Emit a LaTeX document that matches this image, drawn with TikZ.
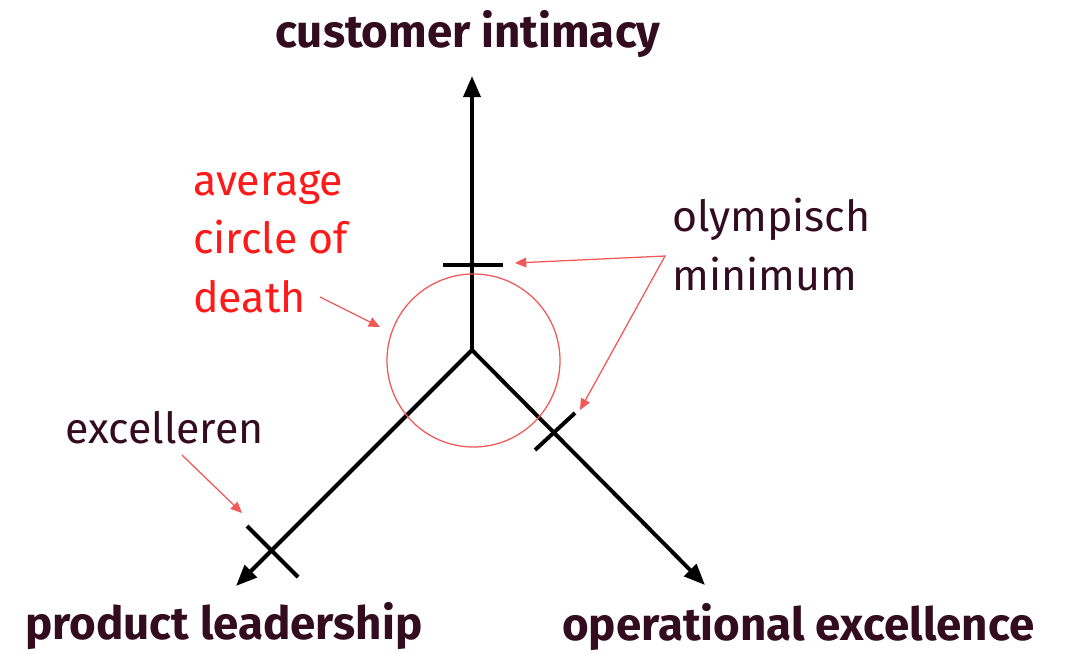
\documentclass[tikz,border=0pt]{standalone}
\usepackage{fontspec}
\setmainfont{Fira Sans}
\usetikzlibrary{arrows.meta}
\definecolor{plumdark}{HTML}{330C1E}
\definecolor{deathred}{HTML}{FF1A1A}
\definecolor{pointred}{HTML}{F25858}

\tikzset{
  axis/.style={-{Triangle[length=15pt,width=12pt]}, line width=2.8pt, black},
  tick/.style={line width=2.8pt, black},
  pointer/.style={-{Triangle[length=8pt,width=7pt]}, line width=0.9pt, pointred},
  title/.style={font=\fontsize{32.5}{40}\selectfont\bfseries, text=plumdark, inner sep=0pt},
  note/.style={font=\fontsize{30.5}{41.6}\selectfont, inner sep=0pt, align=left}
}

\begin{document}
\begin{tikzpicture}[x=0.025cm, y=-0.025cm]
  \useasboundingbox (0,0) rectangle (1069,653);

  % centre and the three axes
  \coordinate (o) at (472,350);
  \coordinate (ci) at (472,76);
  \coordinate (pl) at (236,586);
  \coordinate (oe) at (705,585);
  \draw[axis] (o) -- (ci);
  \draw[axis] (o) -- (pl);
  \draw[axis] (o) -- (oe);

  % circle of death
  \coordinate (mid) at (473.5,360.5);
  \draw[pointred, line width=0.9pt] (mid) circle[radius=86.5];

  % marks on the axes
  \coordinate (ciA) at (443,265);
  \coordinate (ciB) at (503,265);
  \coordinate (oeA) at (535,450);
  \coordinate (oeB) at (575,413);
  \coordinate (plA) at (247,526);
  \coordinate (plB) at (298,577);
  \draw[tick] (ciA) -- (ciB);
  \draw[tick] (oeA) -- (oeB);
  \draw[tick] (plA) -- (plB);

  % axis names
  \node[title, anchor=base] (cilabel) at (468,47) {customer intimacy};
  \node[title, anchor=base west] (pllabel) at (25,639) {product leadership};
  \node[title, anchor=base west] (oelabel) at (562,640) {operational excellence};

  % notes (base = last line)
  \node[note, text=deathred, anchor=base west] (death) at (193,312) {average\\circle of\\death};
  \node[note, text=plumdark, anchor=base west] (olymp) at (672,290) {olympisch\\minimum};
  \node[note, text=plumdark, anchor=base west] (excel) at (65,443) {excelleren};

  % pointers
  \coordinate (deathS) at (320,297);
  \coordinate (deathT) at (380,327);
  \coordinate (olympS) at (665,256);
  \coordinate (olympT1) at (515,263);
  \coordinate (olympT2) at (580,410);
  \coordinate (excelS) at (182,455);
  \coordinate (excelT) at (242,513);
  \draw[pointer] (deathS) -- (deathT);
  \draw[pointer, {Triangle[length=8pt,width=7pt]}-{Triangle[length=8pt,width=7pt]}] (olympT1) -- (olympS) -- (olympT2);
  \draw[pointer] (excelS) -- (excelT);
\end{tikzpicture}
\end{document}
